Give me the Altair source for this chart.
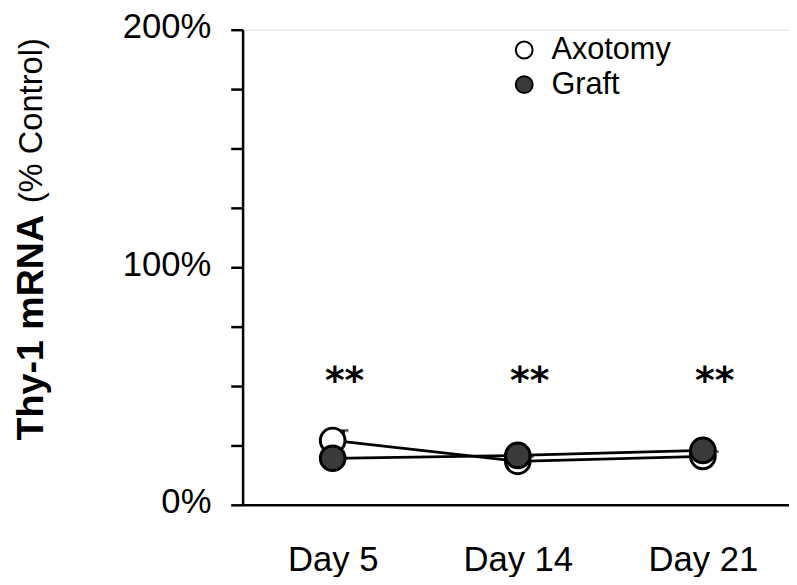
import altair as alt
import pandas as pd

days = ["Day 5", "Day 14", "Day 21"]
axotomy = [27.1, 18.3, 20.4]
graft = [19.6, 20.8, 22.9]
axotomy_err = [4.2, 2.0, 2.0]
graft_err = [2.0, 2.0, 2.0]
signif = ["**", "**", "**"]
signif_y = [47, 47, 47]
groups = ["Axotomy", "Graft"]

rows = []
for i, d in enumerate(days):
    rows.append({"idx": i, "day": d, "group": "Axotomy", "value": axotomy[i], "upper": axotomy[i] + axotomy_err[i], "order": 0})
for i, d in enumerate(days):
    rows.append({"idx": i, "day": d, "group": "Graft", "value": graft[i], "upper": graft[i] + graft_err[i], "order": 1})
df = pd.DataFrame(rows)
sig_df = pd.DataFrame({"idx": list(range(len(days))), "label": signif, "y": signif_y})

FONT = "Liberation Sans"
label_expr = "[" + ",".join("'%s'" % d for d in days) + "][datum.value]"

x = alt.X("idx:Q",
          scale=alt.Scale(domain=[-0.4866, 2.4652], nice=False, zero=False),
          axis=alt.Axis(values=[0, 1, 2], labelExpr=label_expr, ticks=False, grid=False,
                        title=None, domainColor="black", domainWidth=2.5,
                        labelFont=FONT, labelFontSize=35, labelColor="black",
                        labelPadding=38))
y = alt.Y("value:Q",
          scale=alt.Scale(domain=[0, 200], nice=False),
          axis=alt.Axis(values=[0, 25, 50, 75, 100, 125, 150, 175, 200],
                        labelExpr="datum.value % 100 == 0 ? datum.value + '%' : ''",
                        grid=False, title=None, domainColor="black", domainWidth=2.5,
                        tickColor="black", tickWidth=2.5, tickSize=12,
                        labelFont=FONT, labelFontSize=35, labelColor="black",
                        labelPadding=20, labelOffset=-3))

base = alt.Chart(df)

lines = base.mark_line(color="black", strokeWidth=2.8).encode(
    x=x, y=y, detail="group:N")

err_base = base.transform_filter("datum.group == 'Axotomy'")
err_rule = err_base.mark_rule(color="black", strokeWidth=2.5, xOffset=11).encode(
    x="idx:Q", y="value:Q", y2="upper:Q")
err_cap = err_base.mark_tick(color="black", thickness=2.5, size=8, orient="horizontal",
                             xOffset=12).encode(
    x="idx:Q", y="upper:Q")

points = base.mark_point(shape="circle", filled=True, size=620, stroke="black",
                         strokeWidth=3, opacity=1).encode(
    x="idx:Q", y="value:Q",
    fill=alt.Fill("group:N",
                  scale=alt.Scale(domain=groups, range=["white", "#3a3a3a"]),
                  legend=alt.Legend(title=None, orient="none", legendX=269, legendY=5,
                                    symbolType="circle", symbolSize=290,
                                    symbolStrokeColor="black", symbolStrokeWidth=2,
                                    labelFont=FONT, labelFontSize=31, labelColor="black",
                                    labelOffset=12, rowPadding=3, padding=0)),
    order="order:Q")

sig = alt.Chart(sig_df).mark_text(font="DejaVu Sans", fontSize=38, fontWeight="bold",
                                   color="black", dx=12, baseline="alphabetic").encode(
    x="idx:Q", y="y:Q", text="label:N")

title_bold = alt.Chart(pd.DataFrame({"t": ["Thy-1 mRNA"]})).mark_text(
    font=FONT, fontSize=38, fontWeight="bold", angle=270, align="center",
    baseline="middle", color="black").encode(
    x=alt.value(-213), y=alt.value(301), text="t:N")
title_reg = alt.Chart(pd.DataFrame({"t": ["(% Control)"]})).mark_text(
    font=FONT, fontSize=33, angle=270, align="center",
    baseline="middle", color="black").encode(
    x=alt.value(-213), y=alt.value(92), text="t:N")

chart = alt.layer(err_rule, err_cap, lines, points, sig, title_bold, title_reg).properties(
    width=552, height=480,
    autosize=alt.AutoSizeParams(type="none"),
    padding={"left": 237, "top": 19, "right": 0, "bottom": 70},
).configure_view(stroke=None).configure(background="white")

chart.save("out.html", embed_options={"renderer": "svg", "actions": False})
